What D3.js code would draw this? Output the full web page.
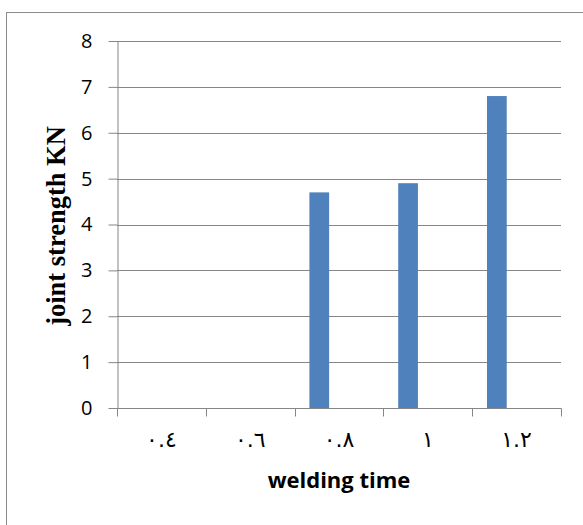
<!DOCTYPE html>
<html>
<head>
<meta charset="utf-8">
<script src="https://cdn.jsdelivr.net/npm/d3@7/dist/d3.min.js"></script>
<style>
  html, body { margin: 0; padding: 0; background: #fff; }
  svg { display: block; }
</style>
</head>
<body>
<svg id="chart" width="583" height="525"></svg>
<script>
// Welding time categories (Arabic-Indic labels) and joint strength values
const categories = ["٠.٤", "٠.٦", "٠.٨", "١", "١.٢"];
const seriesNames = ["Series1", "Series2", "Series3"];
const series1 = [null, null, 4.7, 4.9, 6.8];
const series2 = [null, null, null, null, null];
const series3 = [null, null, null, null, null];
const yTicks = [0, 1, 2, 3, 4, 5, 6, 7, 8];

const allSeries = [series1, series2, series3];

const svg = d3.select("#chart");
const W = 583, H = 525;
const margin = { left: 117, right: 22, top: 41, bottom: 117 };
const x0 = margin.left, x1 = W - margin.right;
const y0 = H - margin.bottom, y1 = margin.top;

// outer chart border
svg.append("rect")
  .attr("x", 6.5).attr("y", 12.5)
  .attr("width", 590).attr("height", 530)
  .attr("fill", "none").attr("stroke", "#8c8c8c").attr("stroke-width", 1);

const x = d3.scaleBand().domain(categories).range([x0, x1]).paddingInner(0).paddingOuter(0);
const xs = d3.scaleBand().domain(seriesNames)
  .range([0, x.bandwidth()]).paddingInner(0).paddingOuter(0.75);
const y = d3.scaleLinear().domain([0, 8]).range([y0, y1]);

// horizontal gridlines
svg.append("g").selectAll("line")
  .data(yTicks.filter(d => d > 0))
  .join("line")
  .attr("x1", x0).attr("x2", x1)
  .attr("y1", d => Math.round(y(d)) + 0.5).attr("y2", d => Math.round(y(d)) + 0.5)
  .attr("stroke", "#868686").attr("stroke-width", 1);

// bars
const barData = [];
allSeries.forEach((vals, si) => {
  vals.forEach((v, ci) => {
    if (v !== null) barData.push({ cat: categories[ci], s: seriesNames[si], v });
  });
});
svg.append("g").selectAll("rect")
  .data(barData)
  .join("rect")
  .attr("x", d => x(d.cat) + xs(d.s))
  .attr("width", xs.bandwidth())
  .attr("y", d => y(d.v))
  .attr("height", d => y(0) - y(d.v))
  .attr("fill", "#4F81BD");

// y axis
const yAxis = svg.append("g")
  .attr("transform", `translate(${x0 + 0.5},0)`)
  .call(d3.axisLeft(y).tickValues(yTicks).tickSize(9).tickPadding(16).tickSizeOuter(0));
yAxis.select(".domain").attr("stroke", "#868686");
yAxis.selectAll(".tick line").attr("stroke", "#868686");
yAxis.selectAll(".tick text")
  .attr("font-family", "'Open Sans', 'Noto Sans', sans-serif")
  .attr("font-size", 20).attr("fill", "#000");

// x axis with ticks at category boundaries
const xAxisG = svg.append("g").attr("transform", `translate(0,${y0 + 0.5})`);
xAxisG.append("line")
  .attr("x1", x0).attr("x2", x1 + 0.5)
  .attr("stroke", "#868686");
const boundaries = categories.map(c => x(c)).concat([x1]);
xAxisG.selectAll("line.tk")
  .data(boundaries)
  .join("line").attr("class", "tk")
  .attr("x1", d => Math.round(d) + 0.5).attr("x2", d => Math.round(d) + 0.5)
  .attr("y1", 0).attr("y2", 8)
  .attr("stroke", "#868686");
xAxisG.selectAll("text")
  .data(categories)
  .join("text")
  .attr("x", d => x(d) + x.bandwidth() / 2)
  .attr("y", 38.5)
  .attr("text-anchor", "middle")
  .attr("direction", "ltr")
  .attr("font-family", "'DejaVu Sans', sans-serif")
  .attr("font-size", 22).attr("fill", "#000")
  .text(d => d);

// axis titles
svg.append("text")
  .attr("transform", `translate(65,226) rotate(-90)`)
  .attr("text-anchor", "middle")
  .attr("font-family", "'Liberation Serif', 'Times New Roman', serif")
  .attr("font-weight", "bold")
  .attr("font-size", 26.5).attr("fill", "#000")
  .text("joint strength KN");

svg.append("text")
  .attr("x", 339).attr("y", 488)
  .attr("text-anchor", "middle")
  .attr("font-family", "'Open Sans', 'Noto Sans', sans-serif")
  .attr("font-weight", "bold")
  .attr("font-size", 22).attr("fill", "#000")
  .text("welding time");
</script>
</body>
</html>
